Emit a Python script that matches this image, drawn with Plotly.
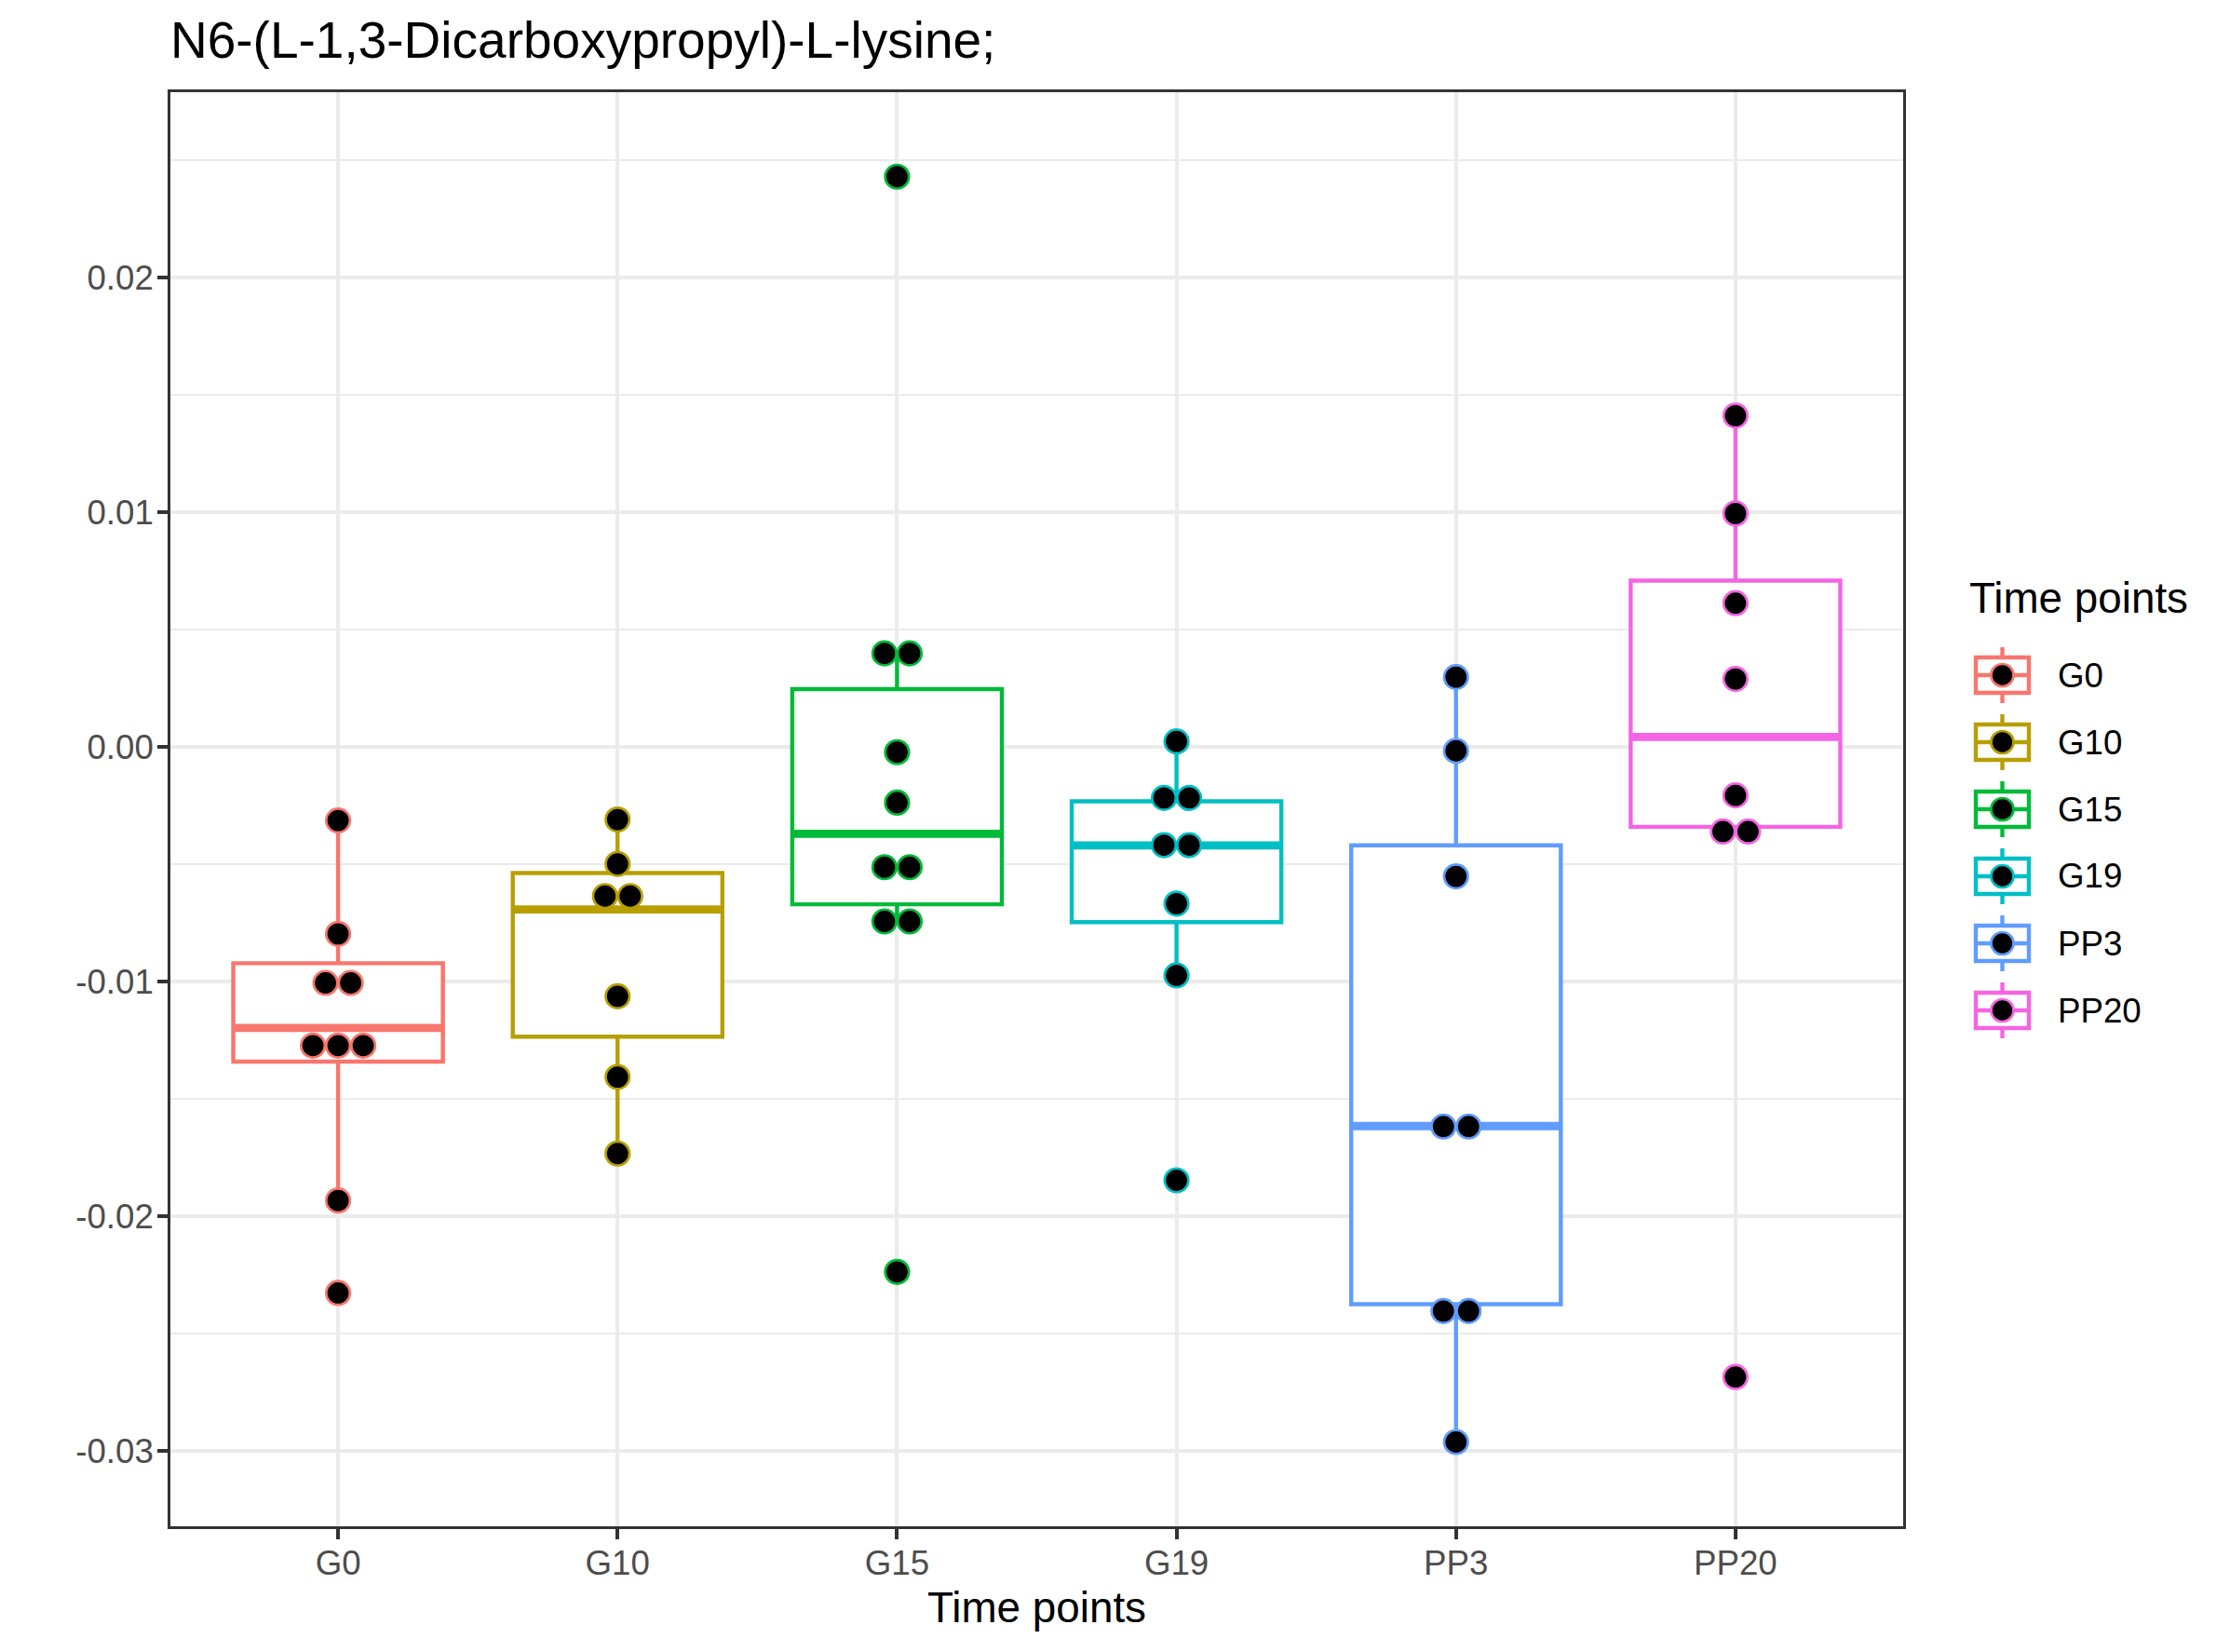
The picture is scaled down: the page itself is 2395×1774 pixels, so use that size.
import plotly.graph_objects as go

# ---------------- data ----------------
categories = ["G0", "G10", "G15", "G19", "PP3", "PP20"]
colors = ["#F8766D", "#B79F00", "#00BA38", "#00BFC4", "#619CFF", "#F564E3"]

g0_values = [-0.00314, -0.00797, -0.01006, -0.01006, -0.01273, -0.01273, -0.01273, -0.01933, -0.02327]
g10_values = [-0.00310, -0.00499, -0.00636, -0.00636, -0.01063, -0.01407, -0.01733]
g15_values = [0.02429, 0.00398, 0.00398, -0.00023, -0.00238, -0.00513, -0.00513, -0.00744, -0.00744, -0.02237]
g19_values = [0.00023, -0.00218, -0.00218, -0.00419, -0.00419, -0.00668, -0.00974, -0.01847]
pp3_values = [0.00297, -0.00017, -0.00552, -0.01618, -0.01618, -0.02404, -0.02404, -0.02962]
pp20_values = [0.01411, 0.00994, 0.00612, 0.00289, -0.00207, -0.00361, -0.00361, -0.02685]
group_values = [g0_values, g10_values, g15_values, g19_values, pp3_values, pp20_values]

# box statistics (as drawn)
box_q1 = [-0.01341, -0.01235, -0.00671, -0.00747, -0.02375, -0.00341]
box_median = [-0.01198, -0.00693, -0.00371, -0.00420, -0.01616, 0.00042]
box_q3 = [-0.00922, -0.00538, 0.00246, -0.00232, -0.00420, 0.00708]
box_lower = [-0.01933, -0.01733, -0.00744, -0.00974, -0.02962, -0.00361]
box_upper = [-0.00314, -0.00310, 0.00398, 0.00023, 0.00297, 0.01411]

y_tick_vals = [-0.03, -0.02, -0.01, 0.00, 0.01, 0.02]
y_tick_text = ["-0.03", "-0.02", "-0.01", "0.00", "0.01", "0.02"]

title_text = "N6-(L-1,3-Dicarboxypropyl)-L-lysine;"
x_title = "Time points"
legend_title = "Time points"

# ---------------- layout constants ----------------
OFF = 8  # page body margin
W, H = 2395 - OFF, 1774 - OFF
PL, PR, PT, PB = 183, 2044, 99, 1639
FONT = "Liberation Sans, Arial, Helvetica, sans-serif"
BOX_W = 0.75
DOT_STEP = 0.09
BOX_LW = 4.4
GRID = "#EBEBEB"


def px_x(x):
    return (x - OFF) / W


def px_y(y):
    return 1 - (y - OFF) / H


fig = go.Figure()

# boxes
for i, cat in enumerate(categories):
    fig.add_trace(go.Box(
        x=[i], q1=[box_q1[i]], median=[box_median[i]], q3=[box_q3[i]],
        lowerfence=[box_lower[i]], upperfence=[box_upper[i]],
        width=BOX_W, whiskerwidth=0, boxpoints=False,
        line=dict(color=colors[i], width=BOX_LW), fillcolor="white",
        showlegend=False, hoverinfo="skip", name=cat,
    ))

# thick median lines
for i, cat in enumerate(categories):
    fig.add_trace(go.Scatter(
        x=[i - BOX_W / 2, i + BOX_W / 2], y=[box_median[i], box_median[i]],
        mode="lines", line=dict(color=colors[i], width=8.8),
        showlegend=False, hoverinfo="skip",
    ))

# dots (centered stacks for tied values)
for i, vals in enumerate(group_values):
    xs, ys = [], []
    seen = {}
    for v in vals:
        seen[v] = seen.get(v, 0) + 1
    for v, n in seen.items():
        for k in range(n):
            xs.append(i + (k - (n - 1) / 2) * DOT_STEP)
            ys.append(v)
    fig.add_trace(go.Scatter(
        x=xs, y=ys, mode="markers",
        marker=dict(size=25.5, color="black", line=dict(color=colors[i], width=2.7)),
        showlegend=False, hoverinfo="skip",
    ))

shapes = []
annotations = []

# custom legend
row0, row_step = 725, 72
kx0, kx1 = 2122, 2179
kxc = (kx0 + kx1) / 2
for i, cat in enumerate(categories):
    yc = row0 + i * row_step
    c = colors[i]
    shapes.append(dict(type="line", xref="paper", yref="paper",
                       x0=px_x(kxc), x1=px_x(kxc), y0=px_y(yc - 30), y1=px_y(yc + 30),
                       line=dict(color=c, width=4.4)))
    shapes.append(dict(type="rect", xref="paper", yref="paper",
                       x0=px_x(kx0), x1=px_x(kx1), y0=px_y(yc - 19), y1=px_y(yc + 19),
                       line=dict(color=c, width=4.4), fillcolor="white"))
    shapes.append(dict(type="line", xref="paper", yref="paper",
                       x0=px_x(kx0), x1=px_x(kx1), y0=px_y(yc), y1=px_y(yc),
                       line=dict(color=c, width=4.4)))
    shapes.append(dict(type="circle", xref="paper", yref="paper",
                       x0=px_x(kxc - 12), x1=px_x(kxc + 12), y0=px_y(yc - 12), y1=px_y(yc + 12),
                       line=dict(color=c, width=2.7), fillcolor="black"))
    annotations.append(dict(text=cat, x=px_x(2208), y=px_y(yc), xref="paper", yref="paper",
                            xanchor="left", yanchor="middle", showarrow=False,
                            font=dict(family=FONT, size=36.7, color="black")))

annotations.append(dict(text=legend_title, x=px_x(2113), y=px_y(642), xref="paper", yref="paper",
                        xanchor="left", yanchor="middle", showarrow=False,
                        font=dict(family=FONT, size=45.8, color="black")))
annotations.append(dict(text=title_text, x=px_x(PL - 2), y=px_y(43), xref="paper", yref="paper",
                        xanchor="left", yanchor="middle", showarrow=False,
                        font=dict(family=FONT, size=55, color="black")))
annotations.append(dict(text=x_title, x=px_x((PL + PR) / 2), y=px_y(1726), xref="paper", yref="paper",
                        xanchor="center", yanchor="middle", showarrow=False,
                        font=dict(family=FONT, size=45.8, color="black")))

fig.update_layout(
    width=W, height=H,
    margin=dict(l=0, r=0, t=0, b=0, pad=0),
    paper_bgcolor="white", plot_bgcolor="white",
    font=dict(family=FONT, color="#4D4D4D"),
    showlegend=False,
    shapes=shapes, annotations=annotations,
    xaxis=dict(
        domain=[px_x(PL), px_x(PR)], range=[-0.6, 5.6],
        tickmode="array", tickvals=list(range(len(categories))), ticktext=categories,
        showgrid=True, gridcolor=GRID, gridwidth=4.4, zeroline=False,
        ticks="outside", ticklen=11, tickwidth=4.2, tickcolor="#333333",
        tickfont=dict(family=FONT, size=36.7, color="#4D4D4D"),
        showline=True, mirror=True, linecolor="#333333", linewidth=2.6,
        automargin=False, ticklabelstandoff=-6,
    ),
    yaxis=dict(
        domain=[px_y(PB), px_y(PT)], range=[-0.03321, 0.02789],
        tickmode="array", tickvals=y_tick_vals, ticktext=y_tick_text,
        showgrid=True, gridcolor=GRID, gridwidth=4.4, zeroline=False,
        minor=dict(showgrid=True, gridcolor=GRID, gridwidth=2.2, dtick=0.005, tick0=0, ticks=""),
        ticks="outside", ticklen=11, tickwidth=4.2, tickcolor="#333333",
        tickfont=dict(family=FONT, size=36.7, color="#4D4D4D"),
        showline=True, mirror=True, linecolor="#333333", linewidth=2.6,
        automargin=False, ticklabelstandoff=-3,
    ),
)

fig.write_html("out.html")
